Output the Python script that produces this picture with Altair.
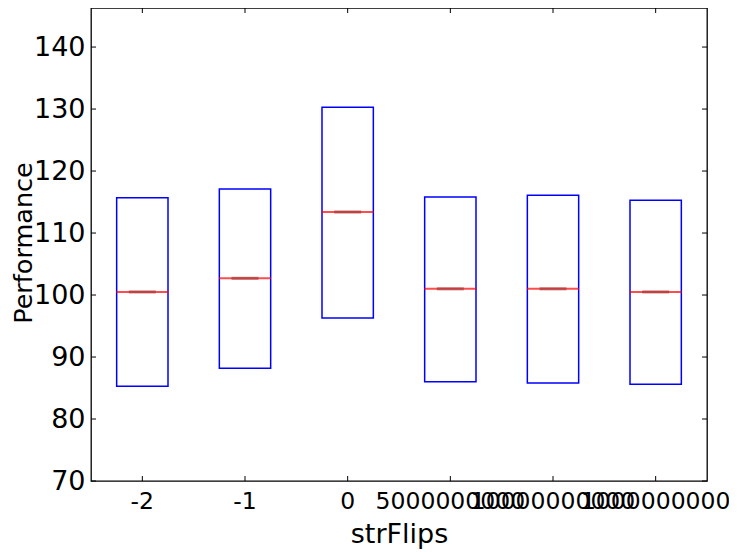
import altair as alt
import pandas as pd

categories = ["-2", "-1", "0", "5000000000", "10000000000", "1000000000"]
q1 = [85.3, 88.2, 96.3, 86.0, 85.8, 85.6]
median = [100.5, 102.7, 113.4, 101.0, 101.0, 100.5]
q3 = [115.7, 117.1, 130.3, 115.8, 116.1, 115.3]
y_ticks = [70, 80, 90, 100, 110, 120, 130, 140]

df = pd.DataFrame({"cat": categories, "q1": q1, "med": median, "q3": q3})
ydf = pd.DataFrame({"v": y_ticks})
xdf = pd.DataFrame({"cat": categories})

W, H = 616, 473
FONT = "DejaVu Sans"

xscale = alt.Scale(domain=categories, paddingInner=0, paddingOuter=0)
yscale = alt.Scale(domain=[70, 146.3], nice=False, zero=False)

x_axis = alt.Axis(title="strFlips", labelAngle=0, labelFontSize=23.5, titleFontSize=27,
                  ticks=False, domain=False, grid=False, labelPadding=8,
                  titleBaseline="alphabetic", titleY=61,
                  labelOverlap=False, labelBound=False, labelFlush=False, labelLimit=400,
                  labelColor="black", titleColor="black", labelFont=FONT, titleFont=FONT,
                  titleFontWeight="normal")
y_axis = alt.Axis(title="Performance", values=y_ticks, labelFontSize=27, titleFontSize=25.5,
                  ticks=False, domain=False, grid=False, labelPadding=6,
                  titleBaseline="alphabetic", titleX=-60, titleY=H / 2 - 2,
                  labelColor="black", titleColor="black", labelFont=FONT, titleFont=FONT,
                  titleFontWeight="normal")

X = alt.X("cat:N", sort=categories, scale=xscale, axis=x_axis)

boxes = alt.Chart(df).mark_bar(filled=False, stroke="#0000ff", strokeWidth=1.5,
                               width=alt.RelativeBandSize(0.5)).encode(
    x=X,
    y=alt.Y("q1:Q", scale=yscale, axis=y_axis),
    y2="q3:Q",
)

med = alt.Chart(df).mark_tick(color="#ff0000", size=52, thickness=2).encode(
    x=X, y=alt.Y("med:Q", scale=yscale, axis=y_axis)
)
med_mid = alt.Chart(df).mark_tick(color="#a83c3c", size=27, thickness=3).encode(
    x=X, y=alt.Y("med:Q", scale=yscale, axis=y_axis)
)

ytick_l = alt.Chart(ydf).mark_rule(color="black", strokeWidth=1).encode(
    y=alt.Y("v:Q", scale=yscale, axis=y_axis), x=alt.value(0), x2=alt.value(5)
)
ytick_r = alt.Chart(ydf).mark_rule(color="black", strokeWidth=1).encode(
    y=alt.Y("v:Q", scale=yscale, axis=y_axis), x=alt.value(W - 5), x2=alt.value(W)
)
xtick_b = alt.Chart(xdf).mark_rule(color="black", strokeWidth=1).encode(
    x=X, y=alt.value(H - 5), y2=alt.value(H)
)
xtick_t = alt.Chart(xdf).mark_rule(color="black", strokeWidth=1).encode(
    x=X, y=alt.value(0), y2=alt.value(5)
)

chart = alt.layer(boxes, med, med_mid, ytick_l, ytick_r, xtick_b, xtick_t).properties(
    width=W, height=H,
    background="white",
    autosize=alt.AutoSizeParams(type="none"),
    padding={"left": 83, "top": 0, "right": 22, "bottom": 68},
).configure_view(stroke="black", strokeWidth=1.3)

chart.save("out.html", embed_options={"renderer": "svg", "actions": False})
